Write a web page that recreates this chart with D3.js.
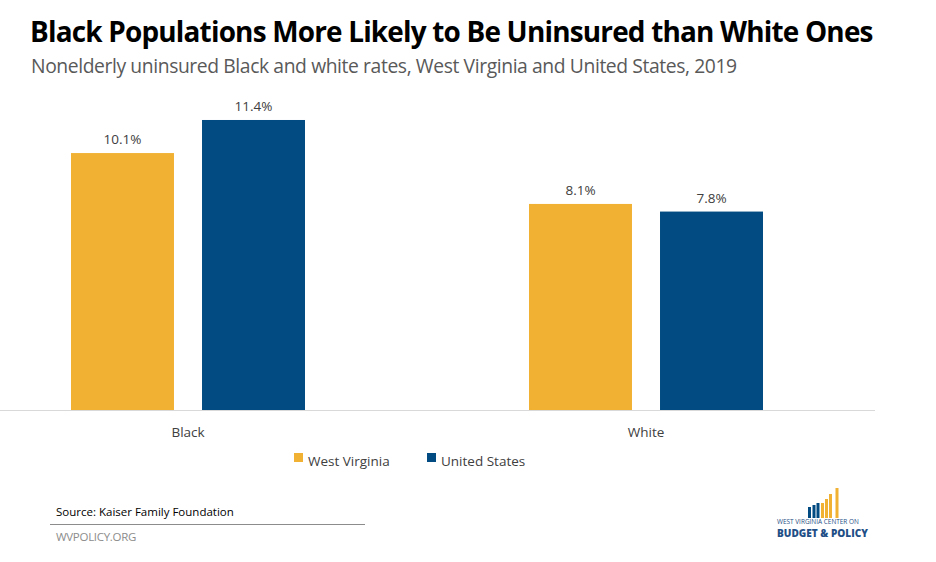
<!DOCTYPE html>
<html>
<head>
<meta charset="utf-8">
<script src="https://cdn.jsdelivr.net/npm/d3@7"></script>
<style>
  html, body { margin: 0; padding: 0; background: #fff; }
  svg { display: block; }
</style>
</head>
<body>
<svg id="chart" width="936" height="562"></svg>
<script>
const categories = ["Black", "White"];
const seriesNames = ["West Virginia", "United States"];
const westVirginia = [10.1, 8.1];
const unitedStates = [11.4, 7.8];
const valueLabels = [["10.1%", "11.4%"], ["8.1%", "7.8%"]];

const colors = { "West Virginia": "#F1B133", "United States": "#014B82" };
const FONT = "'Open Sans', 'Noto Sans', sans-serif";

const svg = d3.select("#chart");

function fitText(sel, targetWidth) {
  const node = sel.node();
  const fs = parseFloat(sel.attr("font-size"));
  const w = node.getComputedTextLength();
  if (w > 0) sel.attr("font-size", (fs * targetWidth / w).toFixed(2));
  return sel;
}

// Title & subtitle
fitText(svg.append("text").attr("x", 30).attr("y", 42)
  .attr("font-family", FONT).attr("font-weight", 700).attr("font-size", 28)
  .attr("fill", "#000").attr("letter-spacing", -0.8)
  .text("Black Populations More Likely to Be Uninsured than White Ones"), 843);

fitText(svg.append("text").attr("x", 31).attr("y", 73)
  .attr("font-family", FONT).attr("font-size", 18).attr("fill", "#595959")
  .attr("letter-spacing", -0.4)
  .text("Nonelderly uninsured Black and white rates, West Virginia and United States, 2019"), 704);

// Scales
const baseY = 410;
const y = d3.scaleLinear().domain([0, 12]).range([baseY, baseY - 12 * 25.44]);
const x0 = d3.scaleBand().domain(categories).range([-41, 875]).paddingInner(0).paddingOuter(0);
const x1 = d3.scaleBand().domain(seriesNames).range([112, 346]).paddingInner(0.214).paddingOuter(0);

const data = categories.map((c, i) => ({
  cat: c,
  values: [
    { s: "West Virginia", v: westVirginia[i], label: valueLabels[i][0] },
    { s: "United States", v: unitedStates[i], label: valueLabels[i][1] }
  ]
}));

const groups = svg.append("g").selectAll("g").data(data).join("g")
  .attr("transform", d => `translate(${x0(d.cat)},0)`);

groups.selectAll("rect").data(d => d.values).join("rect")
  .attr("x", d => x1(d.s))
  .attr("width", x1.bandwidth())
  .attr("y", d => y(d.v))
  .attr("height", d => y(0) - y(d.v))
  .attr("fill", d => colors[d.s]);

groups.selectAll("text.val").data(d => d.values).join("text")
  .attr("class", "val")
  .attr("x", d => x1(d.s) + x1.bandwidth() / 2)
  .attr("y", d => y(d.v) - 9)
  .attr("text-anchor", "middle")
  .attr("font-family", FONT).attr("font-size", 13.5).attr("fill", "#404040")
  .text(d => d.label);

// Axis
const xAxis = d3.axisBottom(x0).tickSize(0).tickPadding(17);
const axisG = svg.append("g").attr("transform", `translate(0,${baseY})`).call(xAxis);
axisG.select(".domain").remove();
axisG.selectAll("text").attr("font-family", FONT).attr("font-size", 13.5).attr("fill", "#404040");
svg.append("line").attr("x1", 0).attr("x2", 875).attr("y1", baseY + 0.5).attr("y2", baseY + 0.5)
  .attr("stroke", "#d9d9d9").attr("stroke-width", 1.2);

// Legend
const legendPos = [{ s: "West Virginia", x: 294 }, { s: "United States", x: 427 }];
const lg = svg.append("g").selectAll("g").data(legendPos).join("g")
  .attr("transform", d => `translate(${d.x},452)`);
lg.append("rect").attr("width", 9).attr("height", 9).attr("y", 1).attr("fill", d => colors[d.s]);
lg.append("text").attr("x", 14).attr("y", 14)
  .attr("font-family", FONT).attr("font-size", 13.5).attr("fill", "#404040")
  .text(d => d.s);

// Source
svg.append("text").attr("x", 56).attr("y", 516)
  .attr("font-family", FONT).attr("font-size", 11.5).attr("fill", "#000")
  .text("Source: Kaiser Family Foundation");
svg.append("line").attr("x1", 50).attr("x2", 365).attr("y1", 524.5).attr("y2", 524.5)
  .attr("stroke", "#8c8c8c").attr("stroke-width", 1);
svg.append("text").attr("x", 56).attr("y", 541)
  .attr("font-family", FONT).attr("font-size", 11.5).attr("fill", "#8c8c8c")
  .attr("letter-spacing", -0.3)
  .text("WVPOLICY.ORG");

// Logo
const logo = svg.append("g");
const logoBars = [
  [808, 507, "#014B82"], [812.5, 505, "#014B82"], [816.5, 503, "#014B82"],
  [821, 503, "#F1B133"], [825, 499, "#F1B133"], [829, 494, "#F1B133"], [835.5, 488, "#F1B133"]
];
logoBars.forEach(b => {
  logo.append("rect").attr("x", b[0]).attr("y", b[1]).attr("width", 3)
    .attr("height", 518 - b[1]).attr("fill", b[2]);
});
fitText(logo.append("text").attr("x", 777).attr("y", 523.5)
  .attr("font-family", FONT).attr("font-size", 6).attr("fill", "#1f4f86")
  .text("WEST VIRGINIA CENTER ON"), 82);
fitText(logo.append("text").attr("x", 777).attr("y", 536.5)
  .attr("font-family", FONT).attr("font-weight", 800).attr("font-size", 9).attr("fill", "#1f4f86")
  .text("BUDGET & POLICY"), 91);
</script>
</body>
</html>
